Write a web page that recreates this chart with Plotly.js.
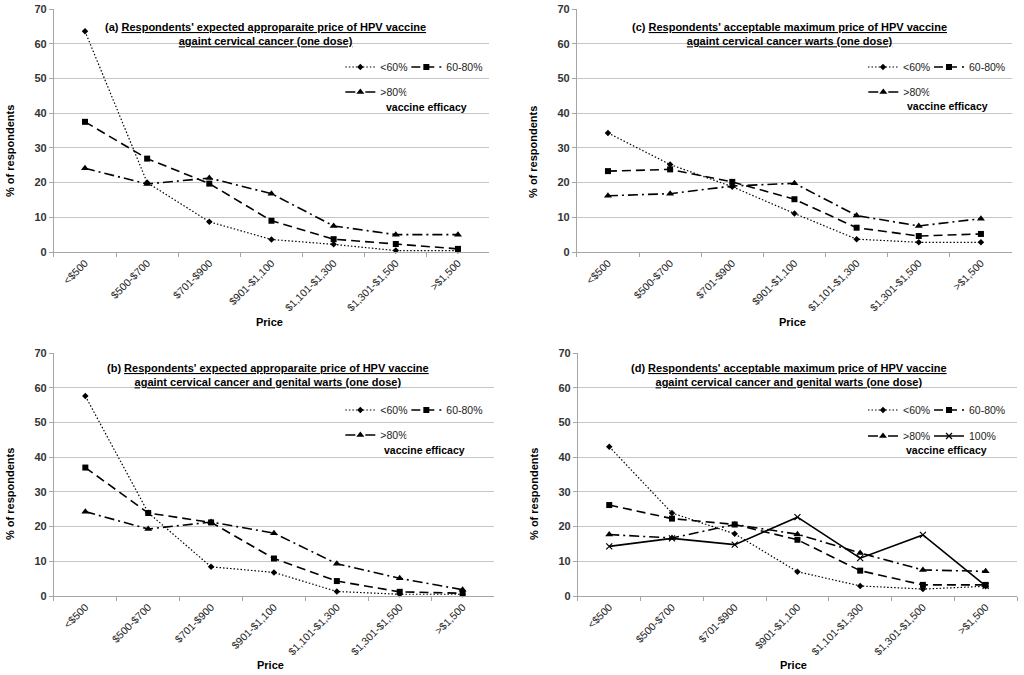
<!DOCTYPE html>
<html><head><meta charset="utf-8">
<script src="https://cdn.plot.ly/plotly-3.0.1.min.js"></script>
<style>html,body{margin:0;padding:0;background:#fff}</style>
</head><body><div id="chart" style="width:1024px;height:675px"></div>
<script>
// ---- data ----
const categories = ['<$500','$500-$700','$701-$900','$901-$1,100','$1,101-$1,300','$1,301-$1,500','>$1,500'];
const seriesNames = ['<60%','60-80%','>80%','100%'];

const a_lt60  = [63.6, 20.0, 8.7, 3.6, 2.2, 0.4, 0.4];
const a_60_80 = [37.5, 26.9, 19.7, 9.0, 3.7, 2.3, 0.9];
const a_gt80  = [24.1, 19.6, 21.3, 16.8, 7.5, 5.0, 5.0];

const b_lt60  = [57.6, 24.0, 8.4, 6.8, 1.3, 0.5, 0.5];
const b_60_80 = [37.0, 23.9, 21.2, 10.8, 4.3, 1.2, 0.8];
const b_gt80  = [24.3, 19.3, 21.3, 18.1, 9.3, 5.1, 1.8];

const c_lt60  = [34.3, 25.2, 18.8, 11.1, 3.7, 2.8, 2.8];
const c_60_80 = [23.3, 23.8, 20.2, 15.2, 7.0, 4.6, 5.2];
const c_gt80  = [16.2, 16.8, 19.0, 19.8, 10.5, 7.5, 9.6];

const d_lt60  = [43.0, 23.9, 17.9, 7.0, 2.9, 2.0, 2.8];
const d_60_80 = [26.2, 22.3, 20.6, 16.2, 7.3, 3.2, 3.2];
const d_gt80  = [17.7, 16.7, 20.6, 17.8, 12.4, 7.5, 7.1];
const d_100   = [14.3, 16.6, 14.8, 22.7, 10.9, 17.6, 2.9];

const titleA = "(a) <u>Respondents' expected approparaite price of HPV vaccine</u><br><u>againt cervical cancer (one dose)</u>";
const titleB = "(b) <u>Respondents' expected approparaite price of HPV vaccine</u><br><u>againt cervical cancer and genital warts (one dose)</u>";
const titleC = "(c) <u>Respondents' acceptable maximum price of HPV vaccine</u><br><u>againt cervical cancer warts (one dose)</u>";
const titleD = "(d) <u>Respondents' acceptable maximum price of HPV vaccine</u><br><u>againt cervical cancer and genital warts (one dose)</u>";

// ---- layout helpers ----
const W = 1024, H = 675;
const FONT = 'Liberation Sans, Arial, sans-serif';
const fx = p => p / W;
const fy = p => 1 - p / H;

const styles = {
  '<60%':   {dash: '1.5px,2px', width: 1.2, symbol: 'diamond', size: 5},
  '60-80%': {dash: '9px,5px', width: 1.6, symbol: 'square', size: 6},
  '>80%':   {dash: '10px,4px,2px,4px', width: 1.6, symbol: 'triangle-up', size: 7},
  '100%':   {dash: 'solid', width: 1.6, symbol: 'x-thin', size: 6}
};
const lastInRow = {'60-80%': true, '100%': true};

const panels = [
  {ax: '', xr: [54, 490], yr: [9, 252], title: titleA, tc: [266, 19], ytc: [10, 151], xtc: [270, 322], ve: [427, 107],
   leg: [[341, 67], [341, 92]], data: [[a_lt60, 0], [a_60_80, 0], [a_gt80, 1]]},
  {ax: '2', xr: [578, 1014], yr: [9, 252], title: titleC, tc: [791, 19], ytc: [534, 152], xtc: [794, 322], ve: [949, 106],
   leg: [[865, 67], [865, 92]], data: [[c_lt60, 0], [c_60_80, 0], [c_gt80, 1]]},
  {ax: '3', xr: [54, 495], yr: [353, 596], title: titleB, tc: [269, 360], ytc: [10, 494], xtc: [271, 665], ve: [425, 450],
   leg: [[341, 410], [341, 435]], data: [[b_lt60, 0], [b_60_80, 0], [b_gt80, 1]]},
  {ax: '4', xr: [579, 1019], yr: [353, 596], title: titleD, tc: [791, 360], ytc: [535, 494], xtc: [795, 665], ve: [948, 450],
   leg: [[865, 410], [865, 436]], data: [[d_lt60, 0], [d_60_80, 0], [d_gt80, 1], [d_100, 1]]}
];

const traces = [];
const layout = {
  width: W, height: H,
  margin: {l: 0, r: 0, t: 0, b: 0},
  paper_bgcolor: '#fff', plot_bgcolor: '#fff',
  font: {family: FONT, color: '#000'},
  annotations: [],
  showlegend: true
};

let legendIdx = 0;
panels.forEach((p) => {
  const xa = 'xaxis' + p.ax, ya = 'yaxis' + p.ax;
  layout[xa] = {
    domain: [fx(p.xr[0]), fx(p.xr[1])], anchor: 'y' + p.ax,
    type: 'category', range: [-0.5, 6.5],
    showline: true, linecolor: '#a6a6a6', linewidth: 1,
    ticks: 'outside', tickson: 'boundaries', ticklen: 4, tickcolor: '#a6a6a6',
    showgrid: false, tickangle: -45,
    tickfont: {family: FONT, size: 10.5, color: '#222'}
  };
  layout[ya] = {
    domain: [fy(p.yr[1]), fy(p.yr[0])], anchor: 'x' + p.ax,
    range: [0, 70], dtick: 10,
    showline: true, linecolor: '#a6a6a6', linewidth: 1,
    ticks: 'outside', ticklen: 4, tickcolor: '#a6a6a6',
    showgrid: true, gridcolor: '#c6c6c6', gridwidth: 1, zeroline: false,
    tickfont: {family: FONT, size: 11, color: '#333', weight: 'bold'}
  };
  const legNames = [];
  p.leg.forEach((pos) => {
    legendIdx += 1;
    const ln = legendIdx === 1 ? 'legend' : 'legend' + legendIdx;
    legNames.push(ln);
    layout[ln] = {
      x: fx(pos[0]), y: fy(pos[1]), xanchor: 'left', yanchor: 'middle',
      orientation: 'h', bgcolor: 'rgba(0,0,0,0)', borderwidth: 0,
      entrywidth: 21, entrywidthmode: 'pixels', itemclick: false,
      font: {family: FONT, size: 10.5, color: '#222'}, traceorder: 'normal'
    };
  });
  p.data.forEach((d, si) => {
    const name = seriesNames[si];
    const st = styles[name];
    const tr = {
      type: 'scatter', mode: 'lines+markers', name: name,
      x: categories, y: d[0],
      xaxis: 'x' + p.ax, yaxis: 'y' + p.ax,
      legend: legNames[d[1]],
      line: {color: '#000', width: st.width, dash: st.dash},
      marker: {symbol: st.symbol, size: st.size, color: '#000',
               line: {color: '#000', width: name === '100%' ? 1.2 : 0}},
      cliponaxis: false
    };
    if (lastInRow[name]) tr.legendwidth = 50;
    traces.push(tr);
  });
  layout.annotations.push(
    {text: '<b>' + p.title + '</b>', xref: 'paper', yref: 'paper', x: fx(p.tc[0]), y: fy(p.tc[1]),
     xanchor: 'center', yanchor: 'top', showarrow: false, align: 'center',
     font: {family: FONT, size: 11, color: '#000'}},
    {text: '<b>% of respondents</b>', xref: 'paper', yref: 'paper', x: fx(p.ytc[0]), y: fy(p.ytc[1]),
     xanchor: 'center', yanchor: 'middle', showarrow: false, textangle: -90,
     font: {family: FONT, size: 11, color: '#000'}},
    {text: '<b>Price</b>', xref: 'paper', yref: 'paper', x: fx(p.xtc[0]), y: fy(p.xtc[1]),
     xanchor: 'center', yanchor: 'middle', showarrow: false,
     font: {family: FONT, size: 11, color: '#000'}},
    {text: '<b>vaccine efficacy</b>', xref: 'paper', yref: 'paper', x: fx(p.ve[0]), y: fy(p.ve[1]),
     xanchor: 'center', yanchor: 'middle', showarrow: false,
     font: {family: FONT, size: 10.5, color: '#000'}}
  );
});

Plotly.newPlot('chart', traces, layout, {staticPlot: true, displayModeBar: false});
</script>
</body></html>
